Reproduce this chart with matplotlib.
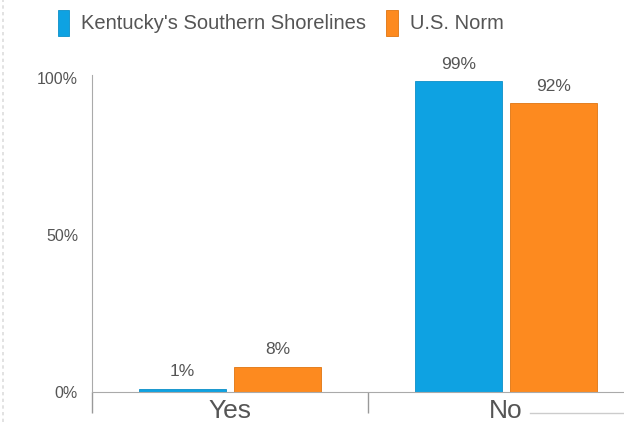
import matplotlib
matplotlib.use("Agg")
import matplotlib.pyplot as plt
from matplotlib.lines import Line2D

plt.rcParams['font.family'] = ['Liberation Sans', 'DejaVu Sans']

categories = ['Yes', 'No']
kentucky = [1, 99]
us_norm = [8, 92]
series_names = ["Kentucky's Southern Shorelines", "U.S. Norm"]
colors = ['#0ea2e2', '#fd8a1f']
ytick_vals = [0, 50, 100]

fig = plt.figure(figsize=(6.24, 4.22), dpi=100)
ax = fig.add_axes([92 / 624, 30 / 422, 532 / 624, 317 / 422])

x = list(range(len(categories)))
w = 0.315
off = 0.173
b1 = ax.bar([i - off for i in x], kentucky, w, color=colors[0], label=series_names[0],
            edgecolor='#0b8fc8', linewidth=0.6)
b2 = ax.bar([i + off for i in x], us_norm, w, color=colors[1], label=series_names[1],
            edgecolor='#e07510', linewidth=0.6)

for bars, vals in [(b1, kentucky), (b2, us_norm)]:
    for r, v in zip(bars, vals):
        ax.annotate(f'{v}%', (r.get_x() + r.get_width() / 2, v), xytext=(0, 7),
                    textcoords='offset points', ha='center', va='bottom',
                    fontsize=12.5, color='#555555')

ax.set_xlim(-0.5, 1.4275)
ax.set_ylim(0, 101)
ax.set_yticks(ytick_vals)
ax.set_yticklabels([f'{v}%' for v in ytick_vals], fontsize=11.5, color='#555555')
ax.tick_params(axis='y', length=0, pad=10)

ax.set_xticks(x)
ax.set_xticklabels(categories, fontsize=19, color='#555555')
ax.set_xticks([-0.5, 0.5], minor=True)
ax.tick_params(axis='x', which='major', length=0, pad=5)
ax.tick_params(axis='x', which='minor', length=15, color='#999999', width=1)

for s in ['top', 'right']:
    ax.spines[s].set_visible(False)
ax.spines['left'].set_color('#aaaaaa')
ax.spines['bottom'].set_color('#aaaaaa')

fig.legend(handles=[b1, b2], labels=series_names, loc='upper center',
           bbox_to_anchor=(0.45, 1.02), ncol=2, frameon=False, fontsize=14.5,
           handlelength=0.55, handleheight=1.6, handletextpad=0.6, columnspacing=1.0,
           labelcolor='#555555')

fig.add_artist(Line2D([3 / 624, 3 / 624], [0, 1], color='#dddddd', linestyle=(0, (2, 2)), linewidth=1.2))
fig.add_artist(Line2D([530 / 624, 1], [9 / 422, 9 / 422], color='#cccccc', linewidth=1))

fig.savefig('out.png', dpi=100)
